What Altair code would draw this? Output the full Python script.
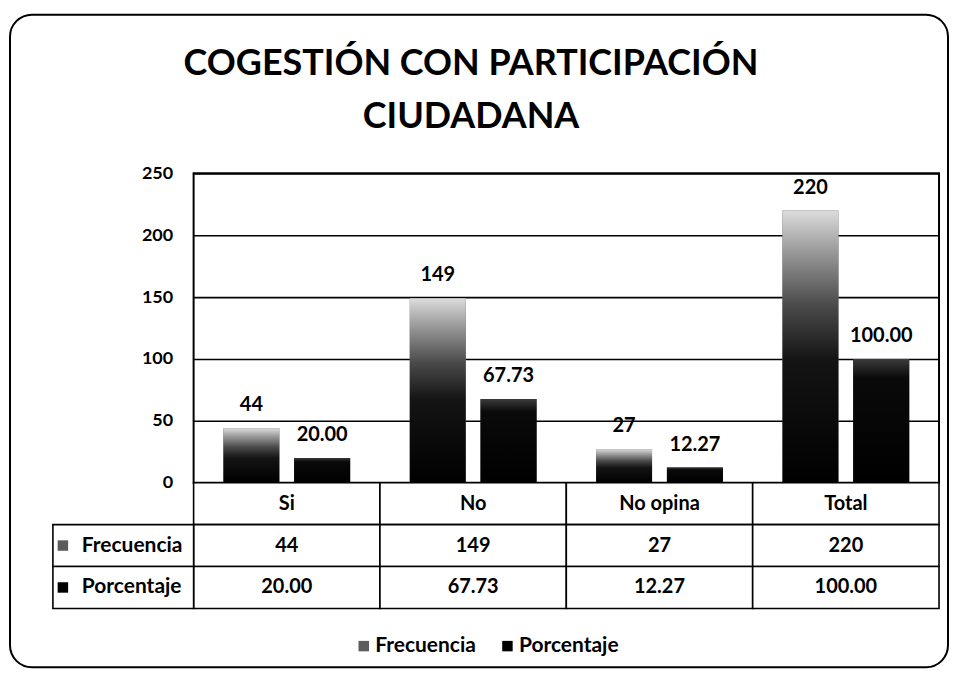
import altair as alt
import pandas as pd

# ---------------- data ----------------
categories = ["Si", "No", "No opina", "Total"]
series = ["Frecuencia", "Porcentaje"]
frecuencia = [44, 149, 27, 220]
porcentaje = [20.00, 67.73, 12.27, 100.00]
y_ticks = [0, 50, 100, 150, 200, 250]
title_lines = ["COGESTIÓN CON PARTICIPACIÓN", "CIUDADANA"]
table_rows = ["header", "Frecuencia", "Porcentaje"]

FONT = "Lato"
SERIES_COLORS = ["#5c5c5c", "#000000"]

rows = []
for c, f, p in zip(categories, frecuencia, porcentaje):
    rows.append({"cat": c, "series": "Frecuencia", "value": f, "label": f"{f:d}"})
    rows.append({"cat": c, "series": "Porcentaje", "value": p, "label": f"{p:.2f}"})
bars_df = pd.DataFrame(rows)

tbl = []
for c, f, p in zip(categories, frecuencia, porcentaje):
    tbl.append({"cat": c, "row": "header", "text": c})
    tbl.append({"cat": c, "row": "Frecuencia", "text": f"{f:d}"})
    tbl.append({"cat": c, "row": "Porcentaje", "text": f"{p:.2f}"})
table_df = pd.DataFrame(tbl)
rowlab_df = pd.DataFrame({"row": series})
title_df = pd.DataFrame({"t": ["\n".join(title_lines)]})

# ---------------- chart A : bars ----------------
x_enc = alt.X("cat:N", sort=categories,
              scale=alt.Scale(domain=categories, paddingInner=0.32, paddingOuter=0.16),
              axis=None)
xo_enc = alt.XOffset("series:N", sort=series,
                     scale=alt.Scale(domain=series, paddingInner=0.21, paddingOuter=0))
y_enc = alt.Y("value:Q",
              scale=alt.Scale(domain=[0, 250], nice=False, zero=True),
              axis=alt.Axis(values=y_ticks, title=None, grid=True, gridColor="black",
                            gridWidth=1.6, gridOpacity=1, ticks=False, domain=False,
                            labelPadding=21, labelFont=FONT, labelFontSize=18,
                            labelFontWeight="bold", labelColor="black"))
color_enc = alt.Color("series:N",
                      scale=alt.Scale(domain=series, range=SERIES_COLORS),
                      legend=alt.Legend(title=None, orient="none", legendX=160, legendY=463,
                                        direction="horizontal", symbolType="square",
                                        symbolSize=110, symbolStrokeWidth=0,
                                        labelFont=FONT, labelFontSize=21,
                                        labelFontWeight="bold", labelColor="black",
                                        labelOffset=1, columnPadding=21, padding=0))

grad_f = alt.LinearGradient(
    gradient="linear", x1=0, y1=1, x2=0, y2=0,
    stops=[alt.GradientStop(color="#000000", offset=0),
           alt.GradientStop(color="#141414", offset=0.45),
           alt.GradientStop(color="#4a4a4a", offset=0.65),
           alt.GradientStop(color="#9a9a9a", offset=0.85),
           alt.GradientStop(color="#dcdcdc", offset=1)])
grad_p = alt.LinearGradient(
    gradient="linear", x1=0, y1=1, x2=0, y2=0,
    stops=[alt.GradientStop(color="#000000", offset=0),
           alt.GradientStop(color="#0a0a0a", offset=0.85),
           alt.GradientStop(color="#3c3c3c", offset=1)])

base_bars = alt.Chart(bars_df).mark_bar().encode(x=x_enc, xOffset=xo_enc, y=y_enc, color=color_enc)
bar_f = alt.Chart(bars_df).transform_filter(alt.datum.series == "Frecuencia").mark_bar(
    fill=grad_f).encode(x=x_enc, xOffset=xo_enc, y=y_enc)
bar_p = alt.Chart(bars_df).transform_filter(alt.datum.series == "Porcentaje").mark_bar(
    fill=grad_p).encode(x=x_enc, xOffset=xo_enc, y=y_enc)
labels = alt.Chart(bars_df).mark_text(
    font=FONT, fontSize=20, fontWeight="bold", color="black",
    baseline="alphabetic", dy=-17).encode(x=x_enc, xOffset=xo_enc, y=y_enc, text="label:N")

frame = alt.Chart(pd.DataFrame({"k": [0]})).mark_rect(
    fill="transparent", stroke="black", strokeWidth=2, cornerRadius=22).encode(
    x=alt.value(-184), x2=alt.value(756), y=alt.value(-159), y2=alt.value(495))

title = alt.Chart(title_df).mark_text(
    font=FONT, fontSize=36, fontWeight="bold", color="black", align="center",
    baseline="alphabetic", lineBreak="\n", lineHeight=54).encode(
    x=alt.value(278), y=alt.value(-99), text="t:N")

top = alt.layer(base_bars, bar_f, bar_p, labels, frame, title).properties(
    width=747, height=310,
    view=alt.ViewBackground(stroke="black", strokeWidth=2))

# ---------------- chart B : data table ----------------
xb = alt.X("cat:N", sort=categories,
           scale=alt.Scale(domain=categories, paddingInner=0, paddingOuter=0), axis=None)
yb = alt.Y("row:N", sort=table_rows,
           scale=alt.Scale(domain=table_rows, paddingInner=0, paddingOuter=0), axis=None)

cells = alt.Chart(table_df).mark_rect(fill="white", stroke="black", strokeWidth=1.6).encode(x=xb, y=yb)
cell_text = alt.Chart(table_df).mark_text(
    font=FONT, fontSize=20, fontWeight="bold", color="black").encode(x=xb, y=yb, text="text:N")
lab_box = alt.Chart(rowlab_df).mark_rect(fill="white", stroke="black", strokeWidth=1.6).encode(
    x=alt.value(-141), x2=alt.value(0), y=yb)
icons = alt.Chart(rowlab_df).mark_point(shape="square", filled=True, size=110, opacity=1).encode(
    x=alt.value(-131), y=yb,
    color=alt.Color("row:N", scale=alt.Scale(domain=series, range=SERIES_COLORS), legend=None))
lab_text = alt.Chart(rowlab_df).mark_text(
    font=FONT, fontSize=21, fontWeight="bold", color="black", align="left").encode(
    x=alt.value(-112), y=yb, text="row:N")

bottom = alt.layer(cells, cell_text, lab_box, icons, lab_text).properties(width=747, height=126)

# ---------------- assemble ----------------
chart = alt.vconcat(top, bottom, spacing=0, bounds="flush").resolve_scale(
    color="independent"
).properties(
    padding={"left": 0, "top": 4, "right": 0, "bottom": 0},
).configure_view(stroke="transparent")

chart.save("out.html", embed_options={"renderer": "svg", "actions": False})
